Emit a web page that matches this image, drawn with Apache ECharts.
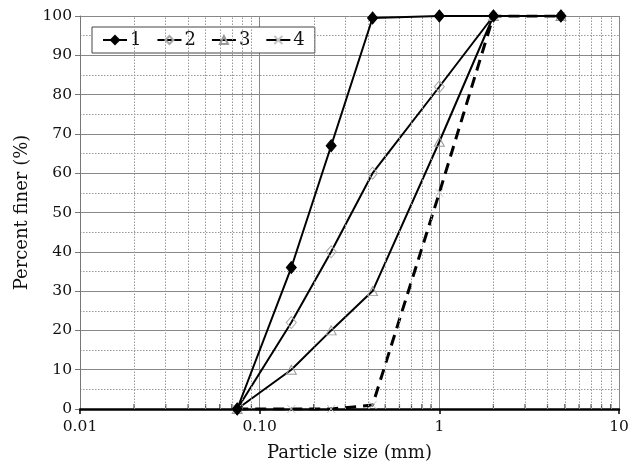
<!DOCTYPE html>
<html>
<head>
<meta charset="utf-8">
<script src="https://cdn.jsdelivr.net/npm/echarts@6/dist/echarts.min.js"></script>
<style>
  html, body { margin: 0; padding: 0; background: #fff; }
  #chart { width: 636px; height: 464px; }
</style>
</head>
<body>
<div id="chart"></div>
<script>
// Grain size distribution curves (sieve analysis)
const seriesNames = ['1', '2', '3', '4'];
const sieveSizes = [0.075, 0.15, 0.25, 0.425, 1, 2, 4.75];
const finer1 = [0, 36, 67, 99.5, 100, 100, 100];
const finer2 = [0, 22, 40, 60, 82, 100, 100];
const finer3 = [0, 10, 20, 30, 68, 100, 100];
const finer4 = [0, 0, 0, 1, 55, 100, 100];
const xTickLabels = ['0.01', '0.10', '1', '10'];
const minorGridSizes = [
  0.02, 0.03, 0.04, 0.05, 0.06, 0.07, 0.08, 0.09,
  0.2, 0.3, 0.4, 0.5, 0.6, 0.7, 0.8, 0.9,
  2, 3, 4, 5, 6, 7, 8, 9
];

const FONT = 'DejaVu Serif';
const pairs = (xs, ys) => xs.map((x, i) => [x, ys[i]]);
const crossPath = 'path://M0,0 L10,10 M10,0 L0,10';

const chart = echarts.init(document.getElementById('chart'), null, { renderer: 'canvas' });

chart.setOption({
  animation: false,
  backgroundColor: '#fff',
  grid: { left: 80, right: 17, top: 16, bottom: 55, containLabel: false, outerBoundsMode: 'none' },
  legend: {
    left: 92, top: 27,
    orient: 'horizontal',
    padding: [4, 10, 4, 10],
    itemWidth: 24, itemHeight: 10, itemGap: 15,
    backgroundColor: '#fff',
    borderColor: '#444', borderWidth: 1, borderRadius: 0,
    textStyle: { fontFamily: FONT, fontSize: 18, color: '#111', padding: [0, 0, 0, -2] },
    data: [
      { name: seriesNames[0] },
      { name: seriesNames[1] },
      { name: seriesNames[2] },
      { name: seriesNames[3], lineStyle: { type: 'solid' } }
    ]
  },
  xAxis: {
    type: 'log', logBase: 10, min: 0.01, max: 10,
    name: 'Particle size (mm)', nameLocation: 'middle', nameGap: 35,
    nameTextStyle: { fontFamily: FONT, fontSize: 18, color: '#111' },
    axisLine: { show: true, onZero: false, lineStyle: { color: '#000', width: 2.5 } },
    axisTick: { show: true, inside: false, length: 5, lineStyle: { color: '#000', width: 1.5 } },
    axisLabel: {
      fontFamily: FONT, fontSize: 15.5, color: '#111', margin: 10,
      formatter: v => xTickLabels[Math.round(Math.log10(v)) + 2]
    },
    splitLine: { show: true, lineStyle: { color: '#888', width: 1 } }
  },
  yAxis: {
    type: 'value', min: 0, max: 100, interval: 10,
    name: 'Percent finer (%)', nameLocation: 'middle', nameGap: 47, nameRotate: 90,
    nameTextStyle: { fontFamily: FONT, fontSize: 18, color: '#111' },
    axisLine: { show: true, lineStyle: { color: '#777', width: 1 } },
    axisTick: { show: true, inside: false, length: 5, lineStyle: { color: '#777' } },
    axisLabel: { fontFamily: FONT, fontSize: 15.5, color: '#111', margin: 8 },
    splitLine: { show: true, lineStyle: { color: '#888', width: 1 } },
    minorTick: { show: false, splitNumber: 2 },
    minorSplitLine: { show: true, lineStyle: { color: '#999', width: 1, type: [1.5, 1.5] } }
  },
  series: [
    {
      // dotted minor grid lines of the log scale, plus the small ticks on the bottom axis
      name: 'minorGrid', type: 'scatter', silent: true, z: 1,
      data: minorGridSizes.map(x => [x, 0]),
      symbol: 'rect', symbolSize: [1.2, 5], symbolOffset: [0, -2.5],
      itemStyle: { color: '#111' },
      markLine: {
        silent: true, symbol: ['none', 'none'],
        label: { show: false },
        lineStyle: { color: '#999', width: 1, type: [1.5, 1.5] },
        data: minorGridSizes.map(x => ({ xAxis: x }))
      },
      tooltip: { show: false }
    },
    {
      name: seriesNames[0], type: 'line', z: 5,
      data: pairs(sieveSizes, finer1),
      symbol: 'diamond', symbolSize: [10, 12],
      lineStyle: { color: '#000', width: 2 },
      itemStyle: { color: '#000', borderColor: '#000', borderWidth: 1 }
    },
    {
      name: seriesNames[1], type: 'line', z: 4,
      data: pairs(sieveSizes, finer2),
      symbol: 'diamond', symbolSize: [10, 12],
      lineStyle: { color: '#000', width: 2 },
      itemStyle: { color: 'rgba(255,255,255,0)', borderColor: '#a8a8a8', borderWidth: 1 }
    },
    {
      name: seriesNames[2], type: 'line', z: 4,
      data: pairs(sieveSizes, finer3),
      symbol: 'triangle', symbolSize: [10, 9],
      lineStyle: { color: '#000', width: 2 },
      itemStyle: { color: 'rgba(255,255,255,0)', borderColor: '#999', borderWidth: 1 }
    },
    {
      name: seriesNames[3], type: 'line', z: 4,
      data: pairs(sieveSizes, finer4),
      symbol: crossPath, symbolSize: 8,
      lineStyle: { color: '#000', width: 3, type: [11, 7] },
      itemStyle: { color: 'rgba(255,255,255,0)', borderColor: '#c4c4c4', borderWidth: 1 }
    }
  ]
});
</script>
</body>
</html>
